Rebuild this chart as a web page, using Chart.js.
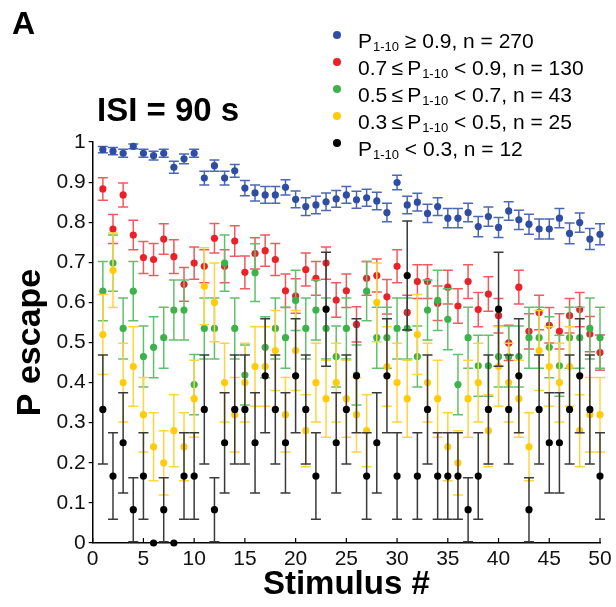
<!DOCTYPE html>
<html>
<head>
<meta charset="utf-8">
<script src="https://cdn.jsdelivr.net/npm/chart.js@4.4.0/dist/chart.umd.min.js"></script>
<style>
  body { margin: 0; background: #fff; }
</style>
</head>
<body>
<canvas id="chart" width="616" height="607"></canvas>
<script>
const chartEl = document.getElementById("chart");

// Stimulus number (x)
const stimuli = [1, 2, 3, 4, 5, 6, 7, 8, 9, 10, 11, 12, 13, 14, 15, 16, 17, 18, 19, 20,
    21, 22, 23, 24, 25, 26, 27, 28, 29, 30, 31, 32, 33, 34, 35, 36, 37, 38, 39, 40,
    41, 42, 43, 44, 45, 46, 47, 48, 49, 50];

// P escape per group, with error (half bar length)
const blueP = [0.981, 0.977, 0.972, 0.989, 0.972, 0.966, 0.972, 0.937, 0.958, 0.972,
    0.910, 0.941, 0.910, 0.928, 0.885, 0.873, 0.868, 0.868, 0.887, 0.857,
    0.839, 0.843, 0.851, 0.858, 0.868, 0.856, 0.861, 0.853, 0.824, 0.899,
    0.843, 0.850, 0.822, 0.839, 0.810, 0.810, 0.824, 0.789, 0.814, 0.787,
    0.828, 0.806, 0.795, 0.783, 0.783, 0.810, 0.772, 0.799, 0.758, 0.770];
const blueErr = [0.008, 0.009, 0.010, 0.006, 0.010, 0.011, 0.010, 0.015, 0.012, 0.010,
    0.017, 0.014, 0.017, 0.016, 0.019, 0.020, 0.021, 0.021, 0.019, 0.021,
    0.022, 0.022, 0.022, 0.021, 0.021, 0.021, 0.021, 0.022, 0.023, 0.018,
    0.022, 0.022, 0.023, 0.022, 0.024, 0.024, 0.023, 0.025, 0.024, 0.025,
    0.023, 0.024, 0.025, 0.025, 0.025, 0.024, 0.026, 0.024, 0.026, 0.026];

const redP = [0.883, 0.783, 0.868, 0.768, 0.712, 0.707, 0.758, 0.714, 0.645, 0.698,
    0.690, 0.760, 0.690, 0.753, 0.675, 0.722, 0.729, 0.707, 0.629, 0.616,
    0.682, 0.660, 0.698, 0.606, 0.629, 0.545, 0.660, 0.667, 0.614, 0.690,
    0.575, 0.652, 0.652, 0.598, 0.638, 0.591, 0.652, 0.582, 0.621, 0.567,
    0.499, 0.638, 0.528, 0.575, 0.543, 0.528, 0.567, 0.582, 0.521, 0.475];
const redErr = [0.028, 0.036, 0.030, 0.037, 0.040, 0.040, 0.038, 0.042, 0.042, 0.040,
    0.041, 0.037, 0.041, 0.038, 0.041, 0.039, 0.039, 0.040, 0.042, 0.043,
    0.041, 0.042, 0.040, 0.043, 0.042, 0.044, 0.042, 0.041, 0.043, 0.041,
    0.043, 0.042, 0.042, 0.043, 0.042, 0.043, 0.042, 0.043, 0.043, 0.043,
    0.044, 0.042, 0.044, 0.043, 0.044, 0.044, 0.043, 0.043, 0.044, 0.044];

const greenP = [0.628, 0.698, 0.535, 0.628, 0.465, 0.488, 0.512, 0.581, 0.581, 0.395,
    0.535, 0.535, 0.698, 0.535, 0.419, 0.674, 0.488, 0.535, 0.512, 0.605,
    0.535, 0.581, 0.535, 0.465, 0.535, 0.419, 0.628, 0.512, 0.512, 0.535,
    0.535, 0.465, 0.581, 0.605, 0.558, 0.395, 0.512, 0.442, 0.442, 0.465,
    0.465, 0.465, 0.512, 0.512, 0.488, 0.442, 0.512, 0.512, 0.535, 0.512];
const greenErr = [0.074, 0.070, 0.076, 0.074, 0.076, 0.076, 0.076, 0.075, 0.075, 0.075,
    0.076, 0.076, 0.070, 0.076, 0.075, 0.072, 0.076, 0.076, 0.076, 0.075,
    0.076, 0.075, 0.076, 0.076, 0.076, 0.075, 0.074, 0.076, 0.076, 0.076,
    0.076, 0.076, 0.075, 0.075, 0.076, 0.075, 0.076, 0.076, 0.076, 0.076,
    0.076, 0.076, 0.076, 0.076, 0.076, 0.076, 0.076, 0.076, 0.076, 0.076];

const yellowP = [0.52, 0.68, 0.40, 0.44, 0.32, 0.24, 0.20, 0.28, 0.24, 0.36,
    0.64, 0.60, 0.40, 0.32, 0.40, 0.44, 0.44, 0.48, 0.32, 0.48,
    0.28, 0.40, 0.36, 0.40, 0.36, 0.32, 0.28, 0.60, 0.44, 0.40,
    0.36, 0.52, 0.40, 0.36, 0.24, 0.20, 0.36, 0.40, 0.28, 0.44,
    0.40, 0.36, 0.24, 0.48, 0.44, 0.40, 0.44, 0.28, 0.32, 0.32];
const yellowErr = [0.100, 0.093, 0.098, 0.099, 0.093, 0.085, 0.080, 0.090, 0.085, 0.096,
    0.096, 0.098, 0.098, 0.093, 0.098, 0.099, 0.099, 0.100, 0.093, 0.100,
    0.090, 0.098, 0.096, 0.098, 0.096, 0.093, 0.090, 0.098, 0.099, 0.098,
    0.096, 0.100, 0.098, 0.096, 0.085, 0.080, 0.096, 0.098, 0.090, 0.099,
    0.098, 0.096, 0.085, 0.100, 0.099, 0.098, 0.099, 0.090, 0.093, 0.093];

const blackP = [0.333, 0.167, 0.250, 0.083, 0.167, 0, 0.083, 0, 0.167, 0.167,
    0.333, 0.083, 0.250, 0.333, 0.333, 0.250, 0.417, 0.333, 0.250, 0.417,
    0.333, 0.167, 0.583, 0.250, 0.333, 0.417, 0.167, 0.250, 0.417, 0.167,
    0.667, 0.167, 0.333, 0.167, 0.167, 0.167, 0.083, 0.167, 0.333, 0.583,
    0.333, 0.417, 0.083, 0.333, 0.250, 0.250, 0.333, 0.417, 0.333, 0.167];
const blackErr = [0.136, 0.108, 0.125, 0.080, 0.108, 0, 0.080, 0, 0.108, 0.108,
    0.136, 0.080, 0.125, 0.136, 0.136, 0.125, 0.142, 0.136, 0.125, 0.142,
    0.136, 0.108, 0.142, 0.125, 0.136, 0.142, 0.108, 0.125, 0.142, 0.108,
    0.136, 0.108, 0.136, 0.108, 0.108, 0.108, 0.080, 0.108, 0.136, 0.142,
    0.136, 0.142, 0.080, 0.136, 0.125, 0.125, 0.136, 0.142, 0.136, 0.108];

// Legend text: [before subscript, subscript, after subscript]
const legendLabels = [
    ["P", "1-10", " \u2265 0.9, n = 270"],
    ["0.7\u2009\u2264\u2009P", "1-10", " < 0.9, n = 130"],
    ["0.5\u2009\u2264\u2009P", "1-10", " < 0.7, n = 43"],
    ["0.3\u2009\u2264\u2009P", "1-10", " < 0.5, n = 25"],
    ["P", "1-10", " < 0.3, n = 12"]
];

const yTicks = [0, 0.1, 0.2, 0.3, 0.4, 0.5, 0.6, 0.7, 0.8, 0.9, 1];
const xTicks = [0, 5, 10, 15, 20, 25, 30, 35, 40, 45, 50];

const dotColors = ["#2f4da2", "#ea2128", "#3bb24a", "#ffcb0a", "#000000"];
const barColors = ["#4c67b3", "#ef5a5f", "#62c06c", "#ffd43e", "#3a3a3a"];

const FONT = "'Liberation Sans', Arial, Helvetica, sans-serif";

const groups = [
    { p: blueP, err: blueErr },
    { p: redP, err: redErr },
    { p: greenP, err: greenErr },
    { p: yellowP, err: yellowErr },
    { p: blackP, err: blackErr }
];

const datasets = groups.map((g, k) => ({
    label: legendLabels[k].join(""),
    data: stimuli.map((s, i) => ({ x: s, y: g.p[i] })),
    err: g.err,
    barColor: barColors[k],
    backgroundColor: dotColors[k],
    pointBackgroundColor: dotColors[k],
    pointBorderWidth: 0,
    pointRadius: 3.6,
    showLine: false,
    clip: false,
    order: 4 - k
}));

// Error bars, drawn just under each group's dots
const errorBars = {
    id: "errorBars",
    beforeDatasetDraw(chart, args) {
        const ds = chart.data.datasets[args.index];
        const { ctx, scales: { x, y } } = chart;
        ctx.save();
        ctx.strokeStyle = ds.barColor;
        ctx.lineWidth = 1.5;
        ds.data.forEach((pt, i) => {
            const e = ds.err[i];
            if (!e) return;
            const px = x.getPixelForValue(pt.x);
            const top = y.getPixelForValue(pt.y + e);
            const bot = y.getPixelForValue(pt.y - e);
            ctx.beginPath();
            ctx.moveTo(px, top); ctx.lineTo(px, bot);
            ctx.moveTo(px - 5, top); ctx.lineTo(px + 5, top);
            ctx.moveTo(px - 5, bot); ctx.lineTo(px + 5, bot);
            ctx.stroke();
        });
        ctx.restore();
    }
};

// Inward x ticks, panel letter, title and legend
const decorations = {
    id: "decorations",
    afterDraw(chart) {
        const { ctx, scales: { x, y } } = chart;
        ctx.save();
        ctx.strokeStyle = "#000";
        ctx.lineWidth = 1.2;
        const y0 = y.getPixelForValue(0);
        xTicks.forEach(t => {
            const px = x.getPixelForValue(t);
            ctx.beginPath();
            ctx.moveTo(px, y0);
            ctx.lineTo(px, y0 - 5);
            ctx.stroke();
        });

        ctx.fillStyle = "#000";
        ctx.textBaseline = "alphabetic";
        ctx.textAlign = "left";
        ctx.font = "bold 32px " + FONT;
        ctx.fillText("A", 12, 34);
        ctx.font = "bold 33px " + FONT;
        ctx.fillText("ISI = 90 s", 97, 121);

        legendLabels.forEach((parts, i) => {
            const cy = 35 + i * 27;
            ctx.fillStyle = dotColors[i];
            ctx.beginPath();
            ctx.arc(337, cy, 4, 0, Math.PI * 2);
            ctx.fill();
            ctx.fillStyle = "#000";
            let tx = 358;
            const base = cy + 13;
            ctx.font = "21px " + FONT;
            ctx.fillText(parts[0], tx, base);
            tx += ctx.measureText(parts[0]).width + 1;
            ctx.font = "13px " + FONT;
            ctx.fillText(parts[1], tx, base + 3);
            tx += ctx.measureText(parts[1]).width;
            ctx.font = "21px " + FONT;
            ctx.fillText(parts[2], tx, base);
        });
        ctx.restore();
    }
};

let myChart = new Chart(chartEl, {
    type: "scatter",
    data: { datasets: datasets },
    plugins: [errorBars, decorations],
    options: {
        responsive: false,
        animation: false,
        layout: { padding: { top: 142, right: 16, left: 0, bottom: 0 } },
        plugins: {
            legend: { display: false },
            tooltip: { enabled: false }
        },
        scales: {
            x: {
                type: "linear",
                min: 0,
                max: 50,
                afterFit: s => { s.height = 64; },
                afterBuildTicks: s => { s.ticks = xTicks.map(v => ({ value: v })); },
                grid: { display: false, drawTicks: false },
                border: { display: true, color: "#000", width: 1.5 },
                ticks: {
                    color: "#111",
                    padding: 4,
                    maxRotation: 0,
                    font: { family: FONT, size: 21 }
                },
                title: {
                    display: true,
                    text: "Stimulus #",
                    color: "#000",
                    padding: { top: 0, bottom: 2 },
                    font: { family: FONT, size: 33, weight: "bold" }
                }
            },
            y: {
                type: "linear",
                min: 0,
                max: 1,
                afterFit: s => { s.width = 92.7; },
                afterBuildTicks: s => { s.ticks = yTicks.map(v => ({ value: v })); },
                grid: { drawOnChartArea: false, drawTicks: true, tickLength: 4, color: "#000", lineWidth: 1.2 },
                border: { display: true, color: "#000", width: 1.5 },
                ticks: {
                    color: "#111",
                    padding: 3,
                    font: { family: FONT, size: 21 },
                    callback: v => (v === 0 || v === 1) ? String(v) : v.toFixed(1)
                },
                title: {
                    display: true,
                    text: "P escape",
                    color: "#000",
                    padding: { top: 10, bottom: 0 },
                    font: { family: FONT, size: 34, weight: "bold" }
                }
            }
        }
    }
});
</script>
</body>
</html>
